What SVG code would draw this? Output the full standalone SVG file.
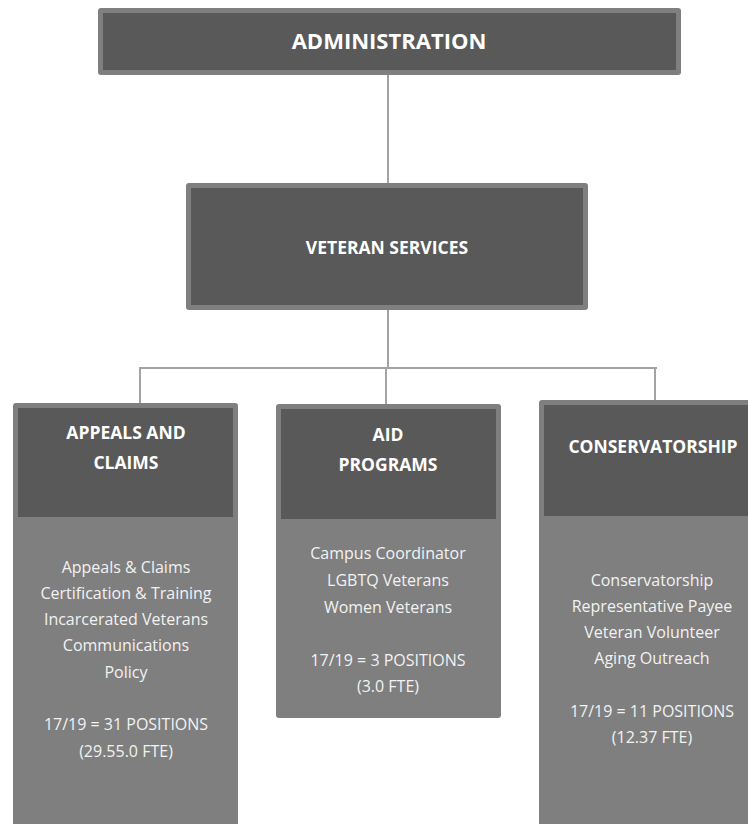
<svg xmlns="http://www.w3.org/2000/svg" width="748" height="824" viewBox="0 0 748 824">
<style>
.outer{fill:#7f7f7f}
.inner{fill:#595959}
.conn{stroke:#a3a3a3;stroke-width:2;fill:none}
.h{font-family:"Open Sans","Liberation Sans",sans-serif;font-weight:bold;fill:#ffffff;text-anchor:middle;font-size:17.5px}
.b{font-family:"Open Sans","Liberation Sans",sans-serif;fill:#f2f2f2;text-anchor:middle;font-size:16px}
</style>
<rect width="748" height="824" fill="#ffffff"/>
<g id="connectors">
<line class="conn" x1="388" y1="75" x2="388" y2="184"/>
<line class="conn" x1="388" y1="310" x2="388" y2="368"/>
<line class="conn" x1="139" y1="368" x2="657" y2="368"/>
<line class="conn" x1="140" y1="368" x2="140" y2="404"/>
<line class="conn" x1="386" y1="368" x2="386" y2="405"/>
<line class="conn" x1="655" y1="368" x2="655" y2="401"/>
</g>
<g id="administration">
<rect class="outer" x="98" y="8" width="583" height="67" rx="3"/>
<rect class="inner" x="103" y="13" width="573" height="57"/>
<text class="h" x="389" y="49" style="font-size:22px">ADMINISTRATION</text>
</g>
<g id="veteran-services">
<rect class="outer" x="186" y="183" width="402" height="127" rx="3"/>
<rect class="inner" x="191" y="188" width="392" height="117"/>
<text class="h" x="387" y="254">VETERAN SERVICES</text>
</g>
<g id="appeals-and-claims">
<rect class="outer" x="13" y="403" width="225" height="430" rx="3"/>
<rect class="inner" x="18" y="408" width="215" height="109"/>
<text class="h" x="126" y="439">APPEALS AND</text>
<text class="h" x="126" y="469">CLAIMS</text>
<text class="b" x="126" y="573">Appeals &amp; Claims</text>
<text class="b" x="126" y="599">Certification &amp; Training</text>
<text class="b" x="126" y="625">Incarcerated Veterans</text>
<text class="b" x="126" y="651">Communications</text>
<text class="b" x="126" y="678">Policy</text>
<text class="b" x="126" y="730">17/19 = 31 POSITIONS</text>
<text class="b" x="126" y="757">(29.55.0 FTE)</text>
</g>
<g id="aid-programs">
<rect class="outer" x="276" y="404" width="225" height="314" rx="3"/>
<rect class="inner" x="281" y="409" width="215" height="110"/>
<text class="h" x="388" y="441">AID</text>
<text class="h" x="388" y="471">PROGRAMS</text>
<text class="b" x="388" y="559">Campus Coordinator</text>
<text class="b" x="388" y="586">LGBTQ Veterans</text>
<text class="b" x="388" y="613">Women Veterans</text>
<text class="b" x="388" y="666">17/19 = 3 POSITIONS</text>
<text class="b" x="388" y="692">(3.0 FTE)</text>
</g>
<g id="conservatorship">
<rect class="outer" x="539" y="400" width="225" height="433" rx="3"/>
<rect class="inner" x="544" y="405" width="215" height="111"/>
<text class="h" x="653" y="453">CONSERVATORSHIP</text>
<text class="b" x="652" y="586">Conservatorship</text>
<text class="b" x="652" y="612">Representative Payee</text>
<text class="b" x="652" y="638">Veteran Volunteer</text>
<text class="b" x="652" y="664">Aging Outreach</text>
<text class="b" x="652" y="717">17/19 = 11 POSITIONS</text>
<text class="b" x="652" y="743">(12.37 FTE)</text>
</g>
</svg>
